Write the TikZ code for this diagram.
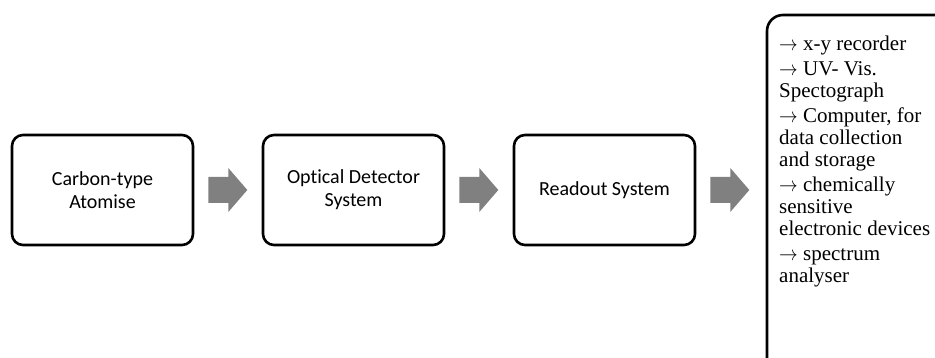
\documentclass[tikz,border=0pt]{standalone}
\usepackage{fontspec}
\setmainfont{Liberation Serif}
\newfontfamily\boxfont[Ligatures=CommonOff]{Carlito}
\newcommand{\itemarrow}{\scalebox{0.9}[1]{$\rightarrow$}}
\begin{document}
\begin{tikzpicture}[x=1pt,y=-1pt,
  stagebox/.style={draw=black, line width=2.6pt, rounded corners=11pt, minimum width=181pt, minimum height=110pt, align=center, font=\boxfont\fontsize{20}{23}\selectfont, inner sep=0pt},
  bigarrow/.style={fill=black!50, draw=none},
  outline/.style={draw=black, line width=2.6pt, rounded corners=16pt},
  listline/.style={anchor=base west, inner sep=0pt, font=\fontsize{21}{22}\selectfont}
]
\useasboundingbox (0,0) rectangle (935,358);
\fill[white] (0,0) rectangle (935,358);

\node[stagebox] (b1) at (102.5,190) {Carbon-type\\Atomise};
\node[stagebox] (b2) at (353.5,190) {Optical Detector\\System};
\node[stagebox] (b3) at (604.5,190) {Readout System};

\foreach \n in {b1,b2,b3}{
  \path[bigarrow] ([xshift=14pt,yshift=-13pt]\n.east) -- ([xshift=34pt,yshift=-13pt]\n.east)
     -- ([xshift=34pt,yshift=-22pt]\n.east) -- ([xshift=53pt]\n.east)
     -- ([xshift=34pt,yshift=22pt]\n.east) -- ([xshift=34pt,yshift=13pt]\n.east)
     -- ([xshift=14pt,yshift=13pt]\n.east) -- cycle;
}

\begin{scope}
\clip (0,0) rectangle (935,358);
\draw[outline] (767,15) rectangle (975,390);
\end{scope}

\node[listline] (l1) at (779,51) {\itemarrow\ x-y recorder};
\node[listline] (l2) at (779,76) {\itemarrow\ UV- Vis.};
\node[listline] (l3) at (779,98) {Spectograph};
\node[listline] (l4) at (779,123) {\itemarrow\ Computer, for};
\node[listline] (l5) at (779,145) {data collection};
\node[listline] (l6) at (779,167) {and storage};
\node[listline] (l7) at (779,192) {\itemarrow\ chemically};
\node[listline] (l8) at (779,214) {sensitive};
\node[listline] (l9) at (779,236) {electronic devices};
\node[listline] (l10) at (779,261) {\itemarrow\ spectrum};
\node[listline] (l11) at (779,283) {analyser};
\end{tikzpicture}
\end{document}
